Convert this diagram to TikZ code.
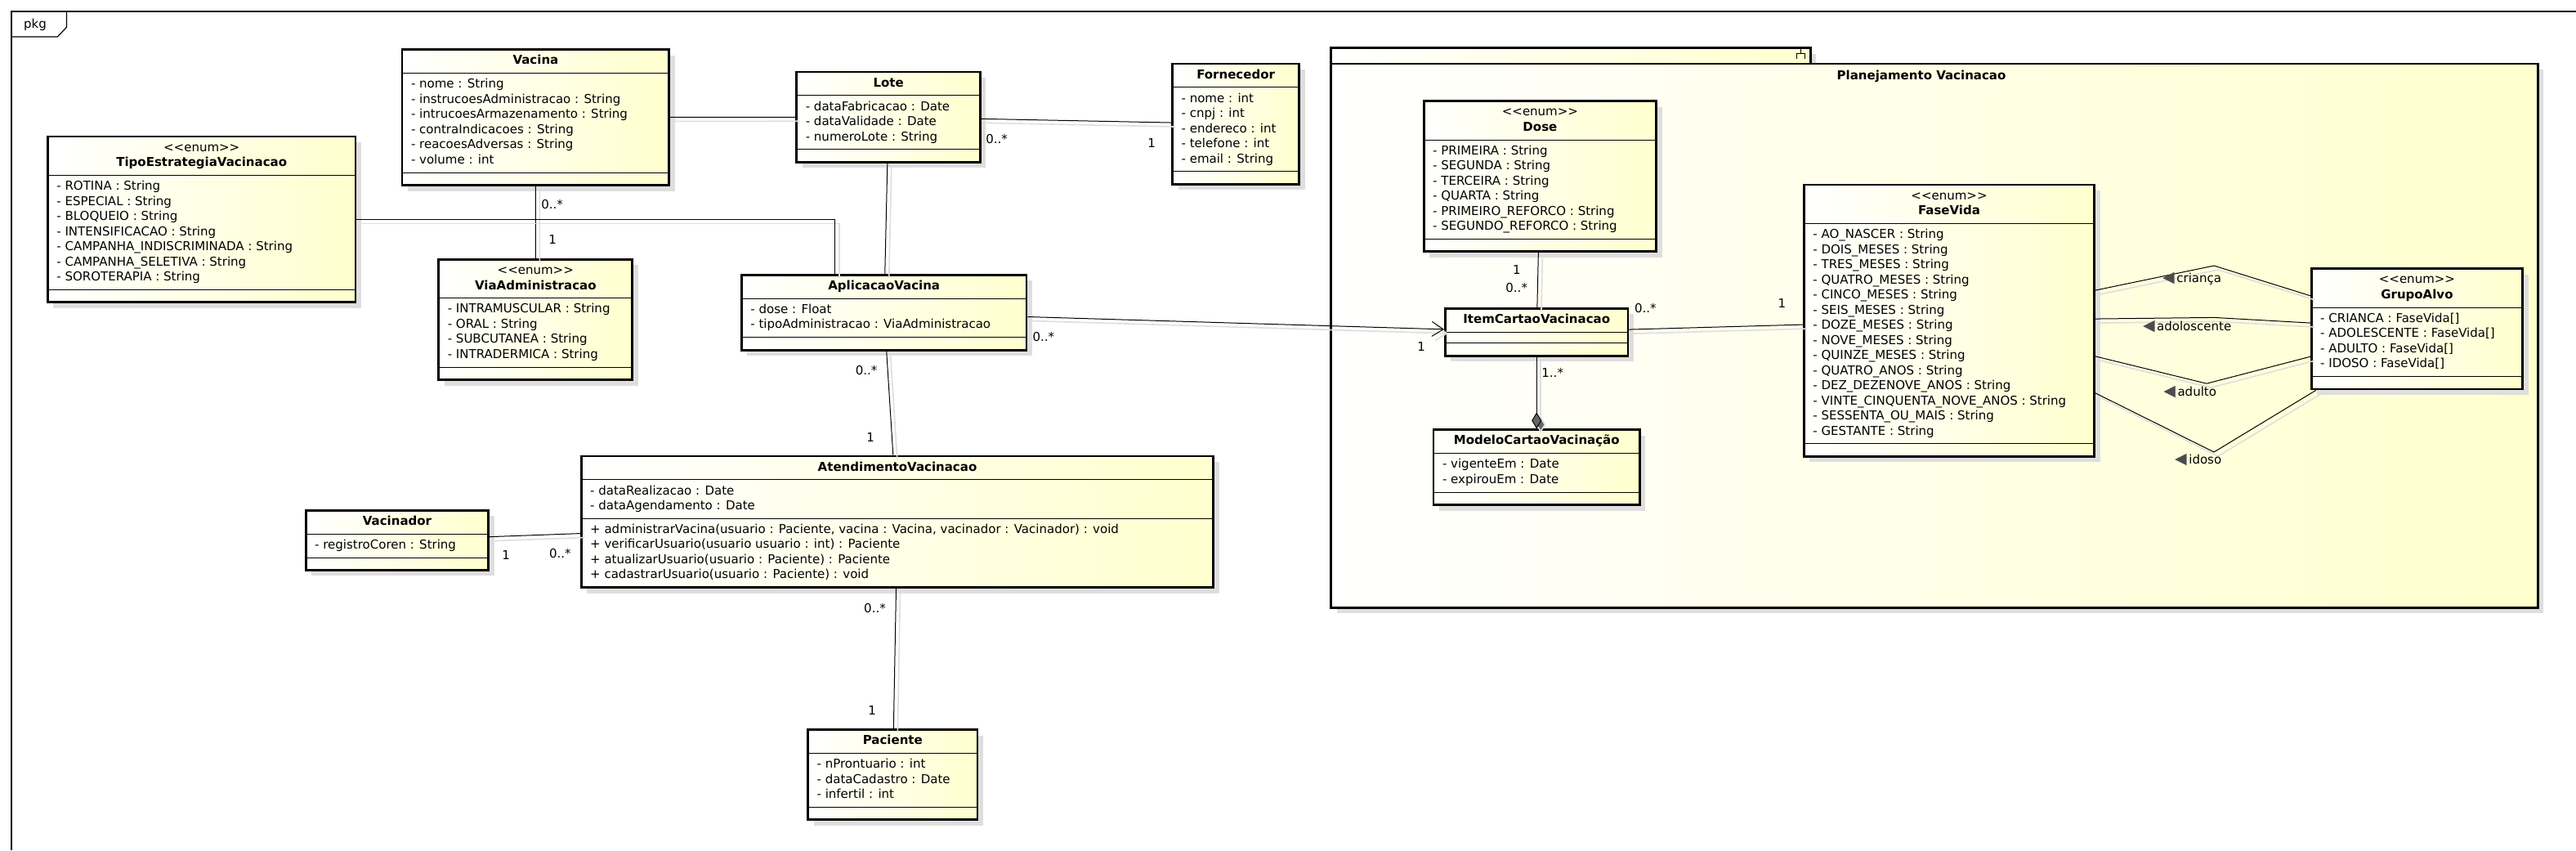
\documentclass[tikz,border=0pt]{standalone}
\usepackage{fontspec}
\setmainfont{DejaVu Sans}
\usetikzlibrary{shapes.multipart, shadows, arrows.meta}

\definecolor{umlyellow}{RGB}{255,255,206}
\newcommand{\clshead}[1]{\begin{tabular}{@{}c@{}}\textbf{#1}\end{tabular}}
\newcommand{\enumhead}[1]{\begin{tabular}{@{}c@{}}<\kern0pt<enum>\kern0pt>\\\textbf{#1}\end{tabular}}
\newcommand{\attrs}[1]{\begin{tabular}{@{}l@{}}#1\end{tabular}}
\newcommand{\nopart}{\rule{0pt}{2.5pt}}
\newcommand{\navtri}{{\fontsize{9.5}{9.5}\selectfont\textcolor{black!70}{◀}}}

\tikzset{
  umlclass/.style={rectangle split, rectangle split parts=3,
    rectangle split part align={center,left,left}, rectangle split draw splits=false,
    draw, line width=1.4pt, left color=white, right color=umlyellow,
    general shadow={fill=black!13, shadow xshift=3.5pt, shadow yshift=-3.5pt},
    anchor=north west, inner xsep=5.5pt, inner ysep=1.9pt},
  sepline/.style={line width=0.5pt},
  assoc/.style={line width=0.5pt,
    preaction={draw=black!13, line width=0.8pt, transform canvas={shift={(2.5pt,-2.5pt)}}}},
  mult/.style={anchor=west, inner sep=0pt},
  pkgbox/.style={draw, line width=1.4pt, left color=white, right color=umlyellow,
    general shadow={fill=black!13, shadow xshift=3.5pt, shadow yshift=-3.5pt},
    anchor=north west, inner sep=0pt}
}

\begin{document}
\begin{tikzpicture}[x=1pt, y=-1pt, font=\fontsize{7.5}{9.25}\selectfont]
  \useasboundingbox (0,0) rectangle (1576,520);

  % frame
  \draw[line width=0.6pt] (1576,7) -- (7,7) -- (7,520);
  \draw[line width=0.6pt] (7,22.5) -- (35.2,22.5) -- (40.7,16.7) -- (40.7,7);
  \node (pkglabel) at (21.5,15) {pkg};

  % package Planejamento Vacinacao
  \node[pkgbox, minimum width=293.4pt, minimum height=9.7pt] (pkgtab) at (813.6,28.6) {};
  \node[pkgbox, minimum width=738.4pt, minimum height=332.7pt] (pkgbody) at (813.6,38.3) {};
  \draw[line width=0.5pt] (1101.5,30) -- (1101.5,32.5) (1099,32.5) -- (1104,32.5)
    (1099,32.5) -- (1099,36) (1104,32.5) -- (1104,36);
  \node[font=\fontsize{7.5}{9.25}\selectfont\bfseries] (pkgtitle) at (1175.5,46.8) {Planejamento Vacinacao};

  % classes
  \node[umlclass, minimum width=188.3pt] (tipo) at (28.5,82.8) {\enumhead{TipoEstrategiaVacinacao}
    \nodepart{two}\attrs{- ROTINA : String\\- ESPECIAL : String\\- BLOQUEIO : String\\- INTENSIFICACAO : String\\- CAMPANHA\_INDISCRIMINADA : String\\- CAMPANHA\_SELETIVA : String\\- SOROTERAPIA : String}
    \nodepart{three}\nopart};
  \node[umlclass, minimum width=163.4pt] (vacina) at (245.3,29.7) {\clshead{Vacina}
    \nodepart{two}\attrs{- nome : String\\- instrucoesAdministracao : String\\- intrucoesArmazenamento : String\\- contraIndicacoes : String\\- reacoesAdversas : String\\- volume : int}
    \nodepart{three}\nopart};
  \node[umlclass, minimum width=118.5pt] (via) at (267.7,158) {\enumhead{ViaAdministracao}
    \nodepart{two}\attrs{- INTRAMUSCULAR : String\\- ORAL : String\\- SUBCUTANEA : String\\- INTRADERMICA : String}
    \nodepart{three}\nopart};
  \node[umlclass, minimum width=112.3pt] (lote) at (486.7,43.3) {\clshead{Lote}
    \nodepart{two}\attrs{- dataFabricacao : Date\\- dataValidade : Date\\- numeroLote : String}
    \nodepart{three}\nopart};
  \node[umlclass, minimum width=77.5pt] (fornecedor) at (716.6,38.3) {\clshead{Fornecedor}
    \nodepart{two}\attrs{- nome : int\\- cnpj : int\\- endereco : int\\- telefone : int\\- email : String}
    \nodepart{three}\nopart};
  \node[umlclass, minimum width=174.3pt] (aplicacao) at (453,167.5) {\clshead{AplicacaoVacina}
    \nodepart{two}\attrs{- dose : Float\\- tipoAdministracao : ViaAdministracao}
    \nodepart{three}\nopart};
  \node[umlclass, minimum width=386.8pt] (atendimento) at (354.9,278.3) {\clshead{AtendimentoVacinacao}
    \nodepart{two}\attrs{- dataRealizacao : Date\\- dataAgendamento : Date}
    \nodepart{three}\attrs{+ administrarVacina(usuario : Paciente, vacina : Vacina, vacinador : Vacinador) : void\\+ verificarUsuario(usuario usuario : int) : Paciente\\+ atualizarUsuario(usuario : Paciente) : Paciente\\+ cadastrarUsuario(usuario : Paciente) : void}};
  \node[umlclass, minimum width=111.8pt] (vacinador) at (186.4,311.4) {\clshead{Vacinador}
    \nodepart{two}\attrs{- registroCoren : String}
    \nodepart{three}\nopart};
  \node[umlclass, minimum width=103.7pt] (paciente) at (493.6,445.6) {\clshead{Paciente}
    \nodepart{two}\attrs{- nProntuario : int\\- dataCadastro : Date\\- infertil : int}
    \nodepart{three}\nopart};
  \node[umlclass, minimum width=142.2pt] (dose) at (870.4,61.1) {\enumhead{Dose}
    \nodepart{two}\attrs{- PRIMEIRA : String\\- SEGUNDA : String\\- TERCEIRA : String\\- QUARTA : String\\- PRIMEIRO\_REFORCO : String\\- SEGUNDO\_REFORCO : String}
    \nodepart{three}\nopart};
  \node[umlclass, minimum width=111.8pt] (item) at (883.5,188) {\clshead{ItemCartaoVacinacao}
    \nodepart{two}\rule{0pt}{1.5pt}\nodepart{three}\nopart};
  \node[umlclass, minimum width=126.2pt] (modelo) at (876.3,262.2) {\clshead{ModeloCartaoVacinação}
    \nodepart{two}\attrs{- vigenteEm : Date\\- expirouEm : Date}
    \nodepart{three}\nopart};
  \node[umlclass, minimum width=177.6pt] (fasevida) at (1103,112.3) {\enumhead{FaseVida}
    \nodepart{two}\attrs{- AO\_NASCER : String\\- DOIS\_MESES : String\\- TRES\_MESES : String\\- QUATRO\_MESES : String\\- CINCO\_MESES : String\\- SEIS\_MESES : String\\- DOZE\_MESES : String\\- NOVE\_MESES : String\\- QUINZE\_MESES : String\\- QUATRO\_ANOS : String\\- DEZ\_DEZENOVE\_ANOS : String\\- VINTE\_CINQUENTA\_NOVE\_ANOS : String\\- SESSENTA\_OU\_MAIS : String\\- GESTANTE : String}
    \nodepart{three}\nopart};
  \node[umlclass, minimum width=129.2pt] (grupo) at (1413.4,163.7) {\enumhead{GrupoAlvo}
    \nodepart{two}\attrs{- CRIANCA : FaseVida[]\\- ADOLESCENTE : FaseVida[]\\- ADULTO : FaseVida[]\\- IDOSO : FaseVida[]}
    \nodepart{three}\nopart};

  \foreach \cls in {tipo,vacina,via,lote,fornecedor,aplicacao,atendimento,vacinador,paciente,dose,item,modelo,fasevida,grupo}
    \draw[sepline] (\cls.text split west) -- (\cls.text split east)
      (\cls.two split west) -- (\cls.two split east);

  % associations
  \draw[assoc] (vacina) -- (lote);
  \draw[assoc] (lote) -- (fornecedor);
  \draw[assoc] (lote) -- (aplicacao);
  \draw[assoc] (vacina) -- (via);
  \draw[assoc] (tipo.east) -| ([xshift=-30pt]aplicacao.north);
  \draw[assoc, -{Straight Barb[length=7pt, width=9pt]}] (aplicacao) -- (item);
  \draw[assoc] (aplicacao) -- (atendimento);
  \draw[assoc] (vacinador) -- (atendimento);
  \draw[assoc] (atendimento) -- (paciente);
  \draw[assoc] (dose) -- (item);
  \draw[assoc] (item) -- (fasevida);
  \draw[assoc, -{Diamond[length=10pt, width=6pt, fill=black!60]}] (item) -- (modelo);

  \coordinate (bCrianca) at (1354.5,162.5);
  \coordinate (bAdol) at (1354.5,194.2);
  \coordinate (bAdulto) at (1350,234.6);
  \coordinate (bIdoso) at (1354.5,276.5);
  \draw[assoc] (fasevida) -- (bCrianca) -- (grupo);
  \draw[assoc] (fasevida) -- (bAdol) -- (grupo);
  \draw[assoc] (fasevida) -- (bAdulto) -- (grupo);
  \draw[assoc] (fasevida) -- (bIdoso) -- (grupo);
  \node[mult] (lCrianca) at (1322.9,170.4) {\navtri\,criança};
  \node[mult] (lAdol) at (1310.8,200) {\navtri\,adoloscente};
  \node[mult] (lAdulto) at (1323.5,240) {\navtri\,adulto};
  \node[mult] (lIdoso) at (1330.4,281.3) {\navtri\,idoso};

  % multiplicities
  \node[mult] (mVacVia) at (331,125) {0..*};
  \node[mult] (mViaVac) at (335.5,146.7) {1};
  \node[mult] (mLoteForn) at (603,85) {0..*};
  \node[mult] (mFornLote) at (702,87.5) {1};
  \node[mult] (mAplItem) at (631.6,205.8) {0..*};
  \node[mult] (mItemApl) at (867,211.8) {1};
  \node[mult] (mAplAtend) at (523.2,226.7) {0..*};
  \node[mult] (mAtendApl) at (530,267.5) {1};
  \node[mult] (mVacinAtend) at (307,339.7) {1};
  \node[mult] (mAtendVacin) at (335.8,338.7) {0..*};
  \node[mult] (mAtendPac) at (528.4,371.9) {0..*};
  \node[mult] (mPacAtend) at (531,434.3) {1};
  \node[mult] (mDoseItem) at (925.4,165) {1};
  \node[mult] (mItemDose) at (921,176) {0..*};
  \node[mult] (mItemFase) at (999.8,188.6) {0..*};
  \node[mult] (mFaseItem) at (1087.6,185.6) {1};
  \node[mult] (mItemMod) at (943,227.9) {1..*};
\end{tikzpicture}
\end{document}
